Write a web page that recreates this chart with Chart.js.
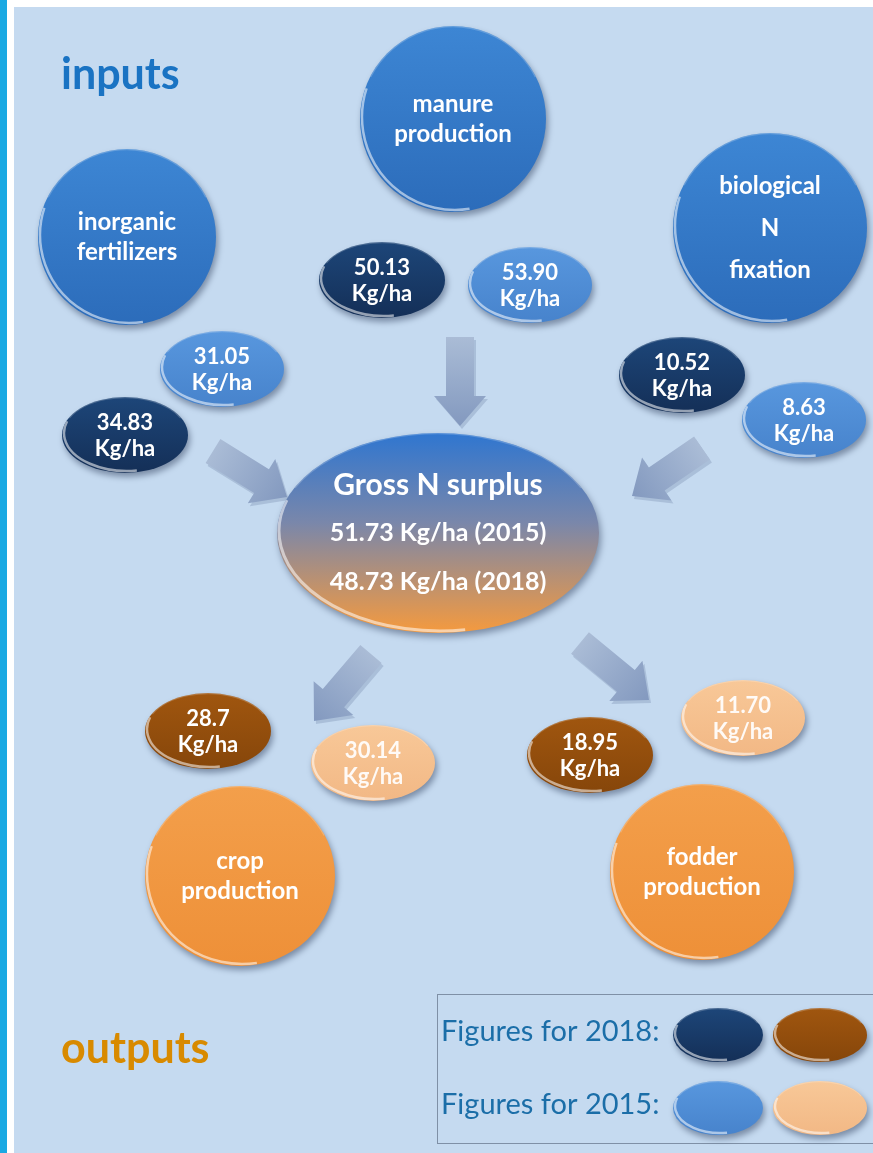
<!DOCTYPE html>
<html>
<head>
<meta charset="utf-8">
<title>Gross N surplus</title>
<script src="https://cdn.jsdelivr.net/npm/chart.js@4.4.1/dist/chart.umd.min.js"></script>
<style>
  html, body { margin: 0; padding: 0; background: #ffffff; }
  canvas { display: block; }
</style>
</head>
<body>
<canvas id="nChart" width="873" height="1153"></canvas>
<script>
// data
const nodeNames = [["inorganic", "fertilizers"], ["manure", "production"], ["biological", "N", "fixation"], ["crop", "production"], ["fodder", "production"]];
const nodeGroup = ["input", "input", "input", "output", "output"];
const values2018 = [34.83, 50.13, 10.52, 28.7, 18.95];
const values2015 = [31.05, 53.90, 8.63, 30.14, 11.70];
const decimals2018 = [2, 2, 2, 1, 2];
const decimals2015 = [2, 2, 2, 2, 2];
const unit = "Kg/ha";
const surplusTitle = "Gross N surplus";
const surplusYears = ["2015", "2018"];
const surplusValues = [51.73, 48.73];
const sectionTitles = ["inputs", "outputs"];
const legendLabels = ["Figures for 2018:", "Figures for 2015:"];

// layout (x, y, rx, ry) in page pixels
const nodeLayout = [[127, 237, 89, 88], [453, 119, 93, 93], [770, 228, 97, 95], [240, 876, 95, 90], [702, 872, 92, 88]];
const layout2018 = [[125, 435], [382, 280], [682, 375], [208, 731], [590, 755]];
const layout2015 = [[222, 369], [530, 285], [804, 420], [373, 763], [743, 718]];
const surplusLayout = [438, 533, 161, 100];
const arrows = [[213, 451, 287, 497], [460, 337, 460, 426], [702, 448, 632, 496], [371, 654, 314, 721], [580, 643, 649, 700]];

const FONT = '"Lato", "Open Sans", sans-serif';
const colors = {
  input: ["#3d86d4", "#2c6cba"],
  output: ["#f39f4b", "#ee9038"],
  in2018: ["#1d4679", "#142f57"],
  out2018: ["#a0560f", "#86460a"],
  in2015: ["#5897de", "#4783cc"],
  out2015: ["#f8c898", "#f2b885"]
};

function rim(c, x, y, rx, ry, alpha, lw) {
  c.save();
  c.beginPath();
  c.ellipse(x, y, rx, ry, 0, 0, Math.PI * 2);
  c.clip();
  c.beginPath();
  c.ellipse(x + 2, y - 2, rx, ry, 0, Math.PI * 0.45, Math.PI * 1.1);
  c.strokeStyle = "rgba(255,255,255," + alpha + ")";
  c.lineWidth = lw;
  c.stroke();
  c.beginPath();
  c.ellipse(x, y, rx - 0.5, ry - 0.5, 0, Math.PI * 1.15, Math.PI * 1.85);
  c.strokeStyle = "rgba(255,255,255,0.2)";
  c.lineWidth = 1.5;
  c.stroke();
  c.restore();
}

function glossy(c, x, y, rx, ry, col) {
  c.save();
  c.shadowColor = "rgba(30,45,75,0.45)";
  c.shadowBlur = 6;
  c.shadowOffsetX = 2;
  c.shadowOffsetY = 4;
  const g = c.createLinearGradient(0, y - ry, 0, y + ry);
  g.addColorStop(0, col[0]);
  g.addColorStop(1, col[1]);
  c.beginPath();
  c.ellipse(x, y, rx, ry, 0, 0, Math.PI * 2);
  c.fillStyle = g;
  c.fill();
  c.restore();
  rim(c, x, y, rx, ry, 0.55, 2.5);
}

function arrow(c, x1, y1, x2, y2) {
  const dx = x2 - x1, dy = y2 - y1, len = Math.hypot(dx, dy);
  const ux = dx / len, uy = dy / len, nx = -uy, ny = ux;
  const w = 14, hw = 26, hl = 30;
  const bx = x2 - ux * hl, by = y2 - uy * hl;
  const pts = [
    [x1 + nx * w, y1 + ny * w], [bx + nx * w, by + ny * w], [bx + nx * hw, by + ny * hw],
    [x2, y2], [bx - nx * hw, by - ny * hw], [bx - nx * w, by - ny * w], [x1 - nx * w, y1 - ny * w]
  ];
  const path = (ox, oy) => {
    c.beginPath();
    pts.forEach((p, i) => i ? c.lineTo(p[0] + ox, p[1] + oy) : c.moveTo(p[0] + ox, p[1] + oy));
    c.closePath();
  };
  c.save();
  path(2, 3);
  c.fillStyle = "rgba(120,140,175,0.35)";
  c.fill();
  const g = c.createLinearGradient(x1, y1, x2, y2);
  g.addColorStop(0, "#aabcd6");
  g.addColorStop(1, "#8399bf");
  path(0, 0);
  c.fillStyle = g;
  c.fill();
  c.restore();
}

function valueText(c, x, y, v, d, size) {
  c.font = "bold " + size + "px " + FONT;
  c.fillText(v.toFixed(d), x, y - 12);
  c.fillText(unit, x, y + 14);
}

const diagramPlugin = {
  id: "diagram",
  beforeDraw(chart) {
    const c = chart.ctx;
    c.save();
    c.fillStyle = "#ffffff";
    c.fillRect(0, 0, chart.width, chart.height);
    c.fillStyle = "#1aa9e3";
    c.fillRect(0, 0, 7, chart.height);
    c.fillStyle = "#c5daf0";
    c.fillRect(14, 7, chart.width - 14, chart.height - 7);
    c.restore();
  },
  afterDatasetsDraw(chart) {
    const c = chart.ctx;
    const xs = chart.scales.x, ys = chart.scales.y;
    const px = v => xs.getPixelForValue(v), py = v => ys.getPixelForValue(v);
    const sx = r => Math.abs(xs.getPixelForValue(r) - xs.getPixelForValue(0));
    const sy = r => Math.abs(ys.getPixelForValue(r) - ys.getPixelForValue(0));

    arrows.forEach(a => arrow(c, px(a[0]), py(a[1]), px(a[2]), py(a[3])));

    c.save();
    c.textAlign = "center";
    c.textBaseline = "middle";

    // big nodes
    chart.getDatasetMeta(0).data.forEach((el, i) => {
      const L = nodeLayout[i];
      glossy(c, el.x, el.y, sx(L[2]), sy(L[3]), colors[nodeGroup[i]]);
      c.fillStyle = "#ffffff";
      c.font = "bold 24px " + FONT;
      const lines = nodeNames[i];
      const gap = lines.length > 2 ? 42 : 30;
      lines.forEach((t, k) => c.fillText(t, el.x, el.y + (k - (lines.length - 1) / 2) * gap));
    });

    // 2018 values
    chart.getDatasetMeta(1).data.forEach((el, i) => {
      glossy(c, el.x, el.y, sx(63), sy(38), nodeGroup[i] === "input" ? colors.in2018 : colors.out2018);
      c.fillStyle = "#ffffff";
      valueText(c, el.x, el.y, values2018[i], decimals2018[i], 22);
    });

    // 2015 values
    chart.getDatasetMeta(2).data.forEach((el, i) => {
      glossy(c, el.x, el.y, sx(62), sy(38), nodeGroup[i] === "input" ? colors.in2015 : colors.out2015);
      c.fillStyle = nodeGroup[i] === "input" ? "#ffffff" : "rgba(255,255,255,0.92)";
      valueText(c, el.x, el.y, values2015[i], decimals2015[i], 22);
    });

    // gross surplus
    const s = chart.getDatasetMeta(3).data[0];
    const srx = sx(surplusLayout[2]), sry = sy(surplusLayout[3]);
    c.save();
    c.shadowColor = "rgba(30,45,75,0.45)";
    c.shadowBlur = 7;
    c.shadowOffsetX = 2;
    c.shadowOffsetY = 4;
    const g = c.createLinearGradient(0, s.y - sry, 0, s.y + sry);
    g.addColorStop(0, "#2f76d0");
    g.addColorStop(0.45, "#7a87aa");
    g.addColorStop(1, "#f59a3e");
    c.beginPath();
    c.ellipse(s.x, s.y, srx, sry, 0, 0, Math.PI * 2);
    c.fillStyle = g;
    c.fill();
    c.restore();
    rim(c, s.x, s.y, srx, sry, 0.55, 3);
    c.fillStyle = "#ffffff";
    c.font = "bold 30px " + FONT;
    c.fillText(surplusTitle, s.x, s.y - 48);
    c.font = "bold 25px " + FONT;
    surplusValues.forEach((v, k) => {
      c.fillText(v.toFixed(2) + " " + unit + " (" + surplusYears[k] + ")", s.x, s.y + k * 49);
    });

    // section titles
    c.textAlign = "left";
    c.textBaseline = "alphabetic";
    c.font = "bold 43px " + FONT;
    c.fillStyle = "#1a73c3";
    c.fillText(sectionTitles[0], px(61), py(89));
    c.fillStyle = "#d88a00";
    c.fillText(sectionTitles[1], px(61), py(1063));

    // legend box
    c.strokeStyle = "#7f90a6";
    c.lineWidth = 1;
    c.strokeRect(px(437) + 0.5, py(994) + 0.5, chart.width, py(1143) - py(994));
    c.font = "29px " + FONT;
    c.fillStyle = "#1b6ea8";
    c.textBaseline = "middle";
    const legendRows = [[1032, colors.in2018, colors.out2018], [1105, colors.in2015, colors.out2015]];
    legendRows.forEach((r, k) => {
      c.fillText(legendLabels[k], px(441), py(r[0]));
      glossy(c, px(718), py(r[0] + 3), sx(45), sy(27), r[1]);
      glossy(c, px(820), py(r[0] + 3), sx(47), sy(27), r[2]);
    });
    c.restore();
  }
};

const ctx = document.getElementById("nChart");
new Chart(ctx, {
  type: "scatter",
  data: {
    datasets: [
      { label: "nodes", data: nodeLayout.map(p => ({ x: p[0], y: p[1] })), pointRadius: 0 },
      { label: "2018", data: layout2018.map(p => ({ x: p[0], y: p[1] })), pointRadius: 0 },
      { label: "2015", data: layout2015.map(p => ({ x: p[0], y: p[1] })), pointRadius: 0 },
      { label: "surplus", data: [{ x: surplusLayout[0], y: surplusLayout[1] }], pointRadius: 0 }
    ]
  },
  options: {
    responsive: false,
    animation: false,
    events: [],
    layout: { padding: 0 },
    plugins: { legend: { display: false }, tooltip: { enabled: false } },
    scales: {
      x: { type: "linear", min: 0, max: 873, display: false },
      y: { type: "linear", min: 0, max: 1153, reverse: true, display: false }
    }
  },
  plugins: [diagramPlugin]
});
</script>
</body>
</html>
